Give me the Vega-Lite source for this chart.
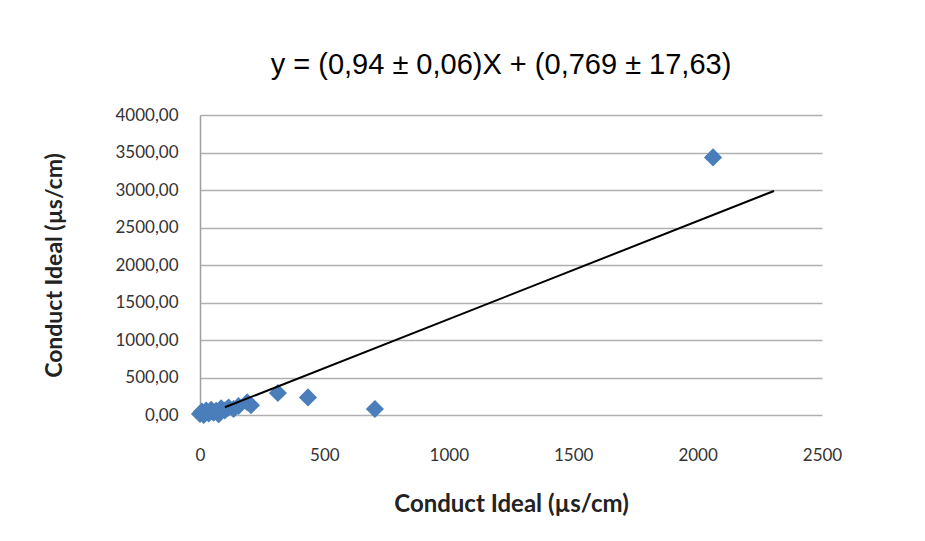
{
  "$schema": "https://vega.github.io/schema/vega-lite/v6.json",
  "autosize": "none",
  "width": 622,
  "height": 300,
  "padding": {"left": 200, "top": 115, "right": 103, "bottom": 126},
  "background": "white",
  "config": {
    "locale": {"number": {"decimal": ",", "thousands": ".", "grouping": [3], "currency": ["", ""]}},
    "view": {"stroke": null},
    "font": "Lato"
  },
  "title": {
    "text": "y = (0,94 ± 0,06)X + (0,769 ± 17,63)",
    "font": "Liberation Sans",
    "fontSize": 29,
    "fontWeight": "normal",
    "color": "#000000",
    "anchor": "middle",
    "dx": -10,
    "offset": 26
  },
  "datasets": {
    "pts": [
      {"x": 0, "y": 15},
      {"x": 8, "y": 45},
      {"x": 15, "y": 0},
      {"x": 25, "y": 60},
      {"x": 35, "y": 20},
      {"x": 45, "y": 70},
      {"x": 55, "y": 30},
      {"x": 65, "y": 55},
      {"x": 75, "y": 10},
      {"x": 85, "y": 90},
      {"x": 100, "y": 60},
      {"x": 115, "y": 100},
      {"x": 135, "y": 80},
      {"x": 155, "y": 120},
      {"x": 190, "y": 170},
      {"x": 205, "y": 130},
      {"x": 313, "y": 293},
      {"x": 434, "y": 235},
      {"x": 703, "y": 80},
      {"x": 2062, "y": 3435}
    ],
    "fit": [
      {"x": 100, "y": 103},
      {"x": 2307, "y": 2987}
    ]
  },
  "encoding": {
    "x": {
      "field": "x", "type": "quantitative",
      "scale": {"domain": [0, 2500], "nice": false},
      "axis": {
        "values": [0, 500, 1000, 1500, 2000, 2500],
        "format": "d",
        "grid": false, "domain": false, "ticks": false,
        "labelFlush": false, "labelOverlap": false,
        "labelFont": "Lato", "labelFontSize": 17, "labelColor": "#333333",
        "labelPadding": 32,
        "title": "Conduct Ideal (µs/cm)",
        "titleFont": "Lato", "titleFontSize": 24, "titleFontWeight": "bold", "titleColor": "#222222",
        "titlePadding": 29
      }
    },
    "y": {
      "field": "y", "type": "quantitative",
      "scale": {"domain": [0, 4000], "nice": false},
      "axis": {
        "values": [0, 500, 1000, 1500, 2000, 2500, 3000, 3500, 4000],
        "tickCount": 9,
        "format": ".2f",
        "grid": true, "gridColor": "#b0b0b0", "gridWidth": 1.5,
        "domain": true, "domainColor": "#a0a0a0", "domainWidth": 1.5,
        "ticks": false,
        "labelFlush": false, "labelOverlap": false,
        "labelFont": "Lato", "labelFontSize": 17, "labelColor": "#333333",
        "labelPadding": 22,
        "title": "Conduct Ideal (µs/cm)",
        "titleFont": "Lato", "titleFontSize": 23, "titleFontWeight": "bold", "titleColor": "#222222",
        "titlePadding": 48
      }
    }
  },
  "layer": [
    {
      "data": {"name": "pts"},
      "mark": {"type": "point", "shape": "diamond", "filled": true, "size": 330, "color": "#4a7ebb", "opacity": 1}
    },
    {
      "data": {"name": "fit"},
      "mark": {"type": "line", "color": "#000000", "strokeWidth": 2}
    }
  ]
}
